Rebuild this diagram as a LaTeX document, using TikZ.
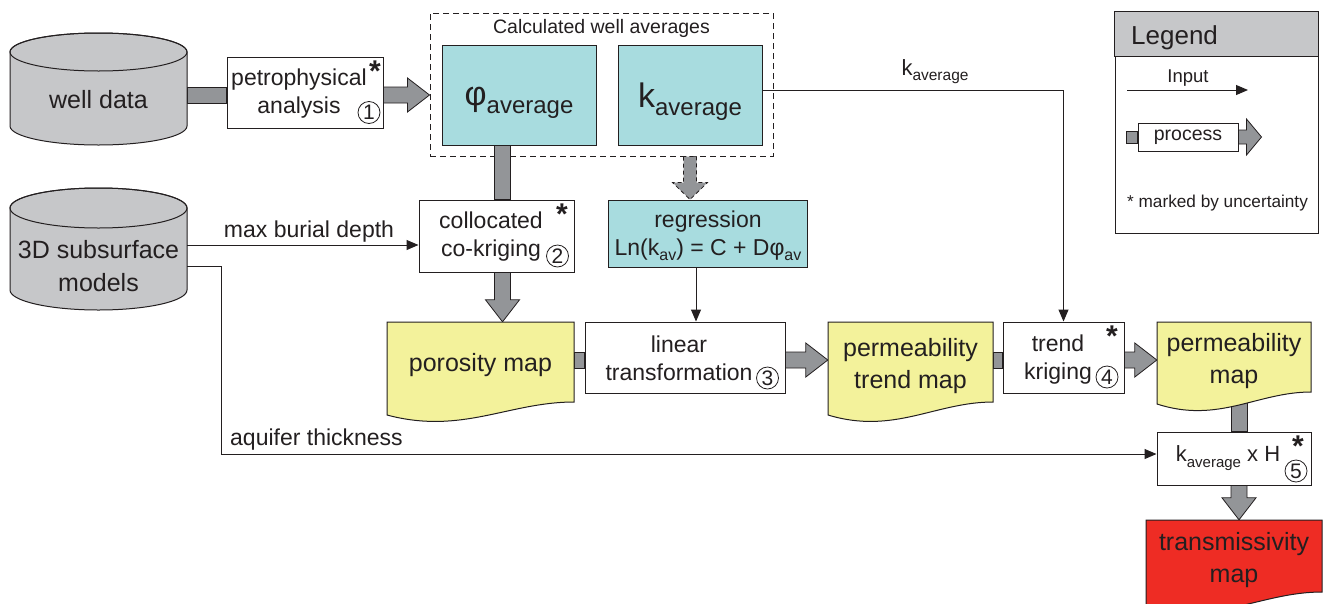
\documentclass[tikz,border=0pt]{standalone}
\usepackage{fontspec}
\setmainfont{Liberation Sans}
\usetikzlibrary{arrows.meta,calc}
\definecolor{linec}{HTML}{231F20}
\definecolor{cylgray}{HTML}{C6C7C9}
\definecolor{fatgray}{HTML}{939598}
\definecolor{cyanbox}{HTML}{A8DCDF}
\definecolor{yellowdoc}{HTML}{F3F29B}
\definecolor{reddoc}{HTML}{EE2C24}
\definecolor{headgray}{HTML}{C6C7C9}
\pgfdeclarelayer{back}
\pgfsetlayers{back,main}
\newcommand\smallsub[3]{\raisebox{-#3pt}{\fontsize{#1pt}{#1pt}\selectfont #2}}
\newcommand\fsz[2]{\fontsize{#1pt}{#2pt}\selectfont}
% cylinder: x1 x2 ytopcenter ybotcenter ry
\newcommand\cyl[5]{%
  \draw[fill=cylgray, draw=linec, line width=1pt] (#1,#3) -- (#1,#4)
    arc[start angle=180, end angle=0, x radius={(#2-#1)/2}, y radius=#5] -- (#2,#3)
    arc[start angle=0, end angle=-180, x radius={(#2-#1)/2}, y radius=#5] -- cycle;
  \draw[draw=linec, line width=1pt] ({(#1+#2)/2},#3) ellipse[x radius={(#2-#1)/2}, y radius=#5];}
% document: x1 x2 ytop ybottomright ybottomleft colour
\newcommand\docpath[6]{%
  \draw[draw=linec, line width=1pt, fill=#6] (#1,#3) -- (#2,#3) -- (#2,#4)
    .. controls ({#1+0.65*(#2-#1)},#4) and ({#1+0.4*(#2-#1)},{#5+20}) .. (#1,#5) -- cycle;}
% fat connectors
\newcommand\fatV[4][]{\draw[fat,#1] let \p1=(#2), \p2=(#3) in (#4pt-8pt,\y1) rectangle (#4pt+8pt,\y2);}
\newcommand\fatVA[4][]{\draw[fat,#1] let \p1=(#2), \p2=(#3) in
  (#4pt-8pt,\y1) -- (#4pt-8pt,\y2+22pt) -- (#4pt-17pt,\y2+22pt) -- (#4pt,\y2) --
  (#4pt+17pt,\y2+22pt) -- (#4pt+8pt,\y2+22pt) -- (#4pt+8pt,\y1) -- cycle;}
\newcommand\fatH[4][]{\draw[fat,#1] let \p1=(#2), \p2=(#3) in (\x1,-#4pt+8pt) rectangle (\x2,-#4pt-8pt);}
\newcommand\fatHA[4][]{\draw[fat,#1] let \p1=(#2), \p2=(#3) in
  (\x1,-#4pt+8pt) -- (\x2-22pt,-#4pt+8pt) -- (\x2-22pt,-#4pt+17pt) -- (\x2,-#4pt) --
  (\x2-22pt,-#4pt-17pt) -- (\x2-22pt,-#4pt-8pt) -- (\x1,-#4pt-8pt) -- cycle;}
\begin{document}
\begin{tikzpicture}[x=1pt,y=-1pt,
  box/.style={rectangle, draw=linec, line width=1pt, fill=white, inner sep=0},
  cbox/.style={box, fill=cyanbox},
  tx/.style={text=linec, inner sep=0, align=center, font=\fsz{23}{28}},
  maptx/.style={rectangle, text=linec, inner sep=0, align=center, font=\fsz{25}{32}},
  lab/.style={text=linec, inner sep=0},
  input/.style={draw=linec, line width=1pt, -{Triangle[length=12pt,width=10pt]}},
  fat/.style={fill=fatgray, draw=linec, line width=0.8pt},
  num/.style={circle, draw=linec, line width=0.8pt, inner sep=0, minimum size=22pt, text=linec, font=\fsz{21}{21}},
  star/.style={text=linec, inner sep=0, anchor=north, font=\bfseries\fsz{30}{30}}]
\useasboundingbox (0,0) rectangle (1327,603);
\begin{pgfonlayer}{back}
  \fill[white] (0,0) rectangle (1327,603);
  \node[rectangle, draw=linec, line width=1pt, dashed, dash pattern=on 6pt off 4pt,
        minimum width=343, minimum height=143, inner sep=0] (cwa) at (601.5,84.5) {};
\end{pgfonlayer}
\node[lab, font=\fsz{19.5}{19.5}] (cwat) at (601.5,28) {Calculated well averages};

% cylinders
\cyl{10}{187}{52}{126}{19}
\node[tx, font=\fsz{25}{30}, minimum width=177, minimum height=90] (wd) at (98.5,100) {well data};
\cyl{10}{187}{208}{290}{20}
\node[tx, font=\fsz{25}{33}, minimum width=177, minimum height=88] (sm) at (98.5,266) {3D subsurface\\models};

% process boxes
\node[box, minimum width=156, minimum height=71] (pa) at (305,92.5) {};
\node[tx] (pat) at (299,94) {petrophysical\\analysis};
\node[star] (pas) at (375,61) {*};
\node[num] (n1) at (369,112.5) {1};

\node[cbox, minimum width=154, minimum height=100] (phi) at (519,95) {};
\node[lab, font=\fsz{34}{34}] (phit) at (519,102.5) {φ\smallsub{24}{average}{8}};
\node[cbox, minimum width=144, minimum height=100] (kav) at (690,95) {};
\node[lab, font=\fsz{34}{34}] (kavt) at (690,102) {k\smallsub{24}{average}{8}};

\node[box, minimum width=155, minimum height=72] (cc) at (496.5,236) {};
\node[tx] (cct) at (491,237) {collocated\\co-kriging};
\node[star] (ccs) at (562,204) {*};
\node[num] (n2) at (557.5,256) {2};

\node[cbox, minimum width=199, minimum height=67] (reg) at (707.5,233.5) {};
\node[tx] (regt) at (708,236) {regression\\Ln(k\smallsub{16}{av}{5}) = C + Dφ\smallsub{16}{av}{5}};

\node[box, minimum width=200, minimum height=71] (lt) at (685,357.5) {};
\node[tx] (ltt) at (679,358) {linear\\transformation};
\node[num] (n3) at (767.5,378) {3};

\node[box, minimum width=121, minimum height=71] (tk) at (1063.5,357.5) {};
\node[tx] (tkt) at (1058,360) {trend\\kriging};
\node[star] (tks) at (1112,326) {*};
\node[num] (n4) at (1107,377) {4};

\node[box, minimum width=154, minimum height=53] (kh) at (1234,458.5) {};
\node[lab, font=\fsz{22}{22}] (kht) at (1228,458) {k\smallsub{15}{average}{6} x H};
\node[star] (khs) at (1298,436) {*};
\node[num] (n5) at (1296,471) {5};

% documents
\docpath{387}{574}{322}{402}{415}{yellowdoc}
\node[maptx, minimum width=187, minimum height=86] (pm) at (480.5,365) {porosity map};
\docpath{828}{993}{322}{402}{415}{yellowdoc}
\node[maptx, minimum width=165, minimum height=88] (ptm) at (910.5,366) {permeability\\trend map};
\docpath{1157}{1311}{322}{392}{404}{yellowdoc}
\node[maptx, minimum width=154, minimum height=78] (pmap) at (1234,361) {permeability\\map};
\docpath{1146}{1322}{520}{592}{606}{reddoc}
\node[maptx, minimum width=176, minimum height=81] (tm) at (1234,560.5) {transmissivity\\map};

% fat process connectors
\begin{pgfonlayer}{back}
  \fatH{wd.east}{pa.west}{95}
  \fatHA{pa.east}{cwa.west}{95}
  \fatV{phi.south}{cc.north}{502.5}
  \fatVA{cc.south}{pm.north}{502.5}
  \draw[fat, dashed, dash pattern=on 4pt off 3pt] let \p1=(kav.south), \p2=(cwa.south), \p3=(reg.north) in
    (\x1-6.5pt,\y2) -- (\x1-6.5pt,\y3+17pt) -- (\x1-17.5pt,\y3+17pt) -- (\x1,\y3) --
    (\x1+17.5pt,\y3+17pt) -- (\x1+6.5pt,\y3+17pt) -- (\x1+6.5pt,\y2) -- cycle;
  \fatH{pm.east}{lt.west}{360}
  \fatHA{lt.east}{ptm.west}{360}
  \fatH{ptm.east}{tk.west}{360}
  \fatHA{tk.east}{pmap.west}{360}
  \fatV{pmap.south}{kh.north}{1239}
  \fatVA{kh.south}{tm.north}{1239}
\end{pgfonlayer}

% input connectors
\draw[input] ([yshift=5pt]kav.east) -| (tk.north);
\node[lab, anchor=south, font=\fsz{22}{22}] (kl) at (935,83.5) {k\smallsub{15.5}{average}{5}};
\draw[input] ([xshift=-11.5pt]reg.south) -- ([xshift=-11.5pt]reg.south |- lt.north);
\draw[input] ([yshift=21pt]sm.east) -- ([yshift=21pt]sm.east -| cc.west);
\node[lab, anchor=south, font=\fsz{23}{23}] (mbd) at (309,242) {max burial depth};
\draw[input] (sm.east) -- ++(34,0) |- ([yshift=4.5pt]kh.west);
\node[lab, anchor=south west, font=\fsz{23}{23}] (aqt) at (230,450) {aquifer thickness};

% legend
\node[rectangle, draw=linec, line width=1pt, minimum width=203, minimum height=221, inner sep=0] (leg) at (1216.5,122.5) {};
\draw[draw=linec, line width=1pt, fill=headgray] (leg.north west) rectangle ($(leg.north east)+(0,45)$);
\node[lab, anchor=west, font=\fsz{26}{26}] (legt) at (1131,38) {Legend};
\coordinate (inA) at (1127,90);
\coordinate (inB) at (1248,90);
\draw[input] (inA) -- (inB);
\node[lab, anchor=base, font=\fsz{18.5}{18.5}] (inpt) at (1188,82) {Input};
\node[box, minimum width=100, minimum height=28, font=\fsz{19.5}{19.5}, text=linec] (lp) at (1188,137) {process};
\draw[fat] let \p1=(lp.west) in (\x1-11pt,\y1+6pt) rectangle (\x1,\y1-6pt);
\draw[fat] let \p1=(lp.east) in (\x1,\y1+7pt) -- (\x1+8pt,\y1+7pt) -- (\x1+8pt,\y1+18pt) -- (\x1+23pt,\y1) --
  (\x1+8pt,\y1-18pt) -- (\x1+8pt,\y1-7pt) -- (\x1,\y1-7pt) -- cycle;
\node[lab, anchor=base west, font=\fsz{17.2}{17.2}] (unc) at (1127,207) {* marked by uncertainty};
\end{tikzpicture}
\end{document}
